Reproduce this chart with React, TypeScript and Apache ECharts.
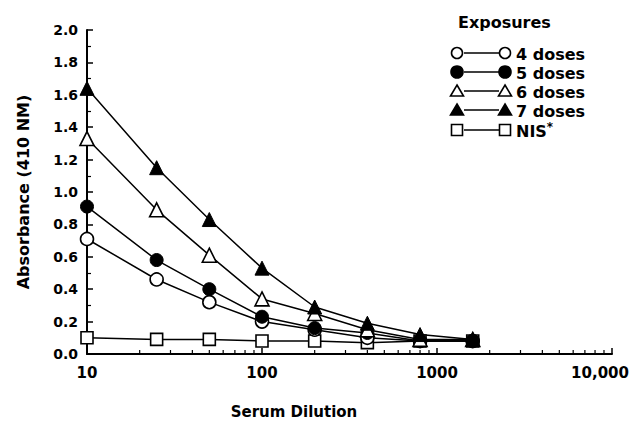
import React, { useEffect, useRef } from "react";
import * as echarts from "echarts";

const dilutions = [10, 25, 50, 100, 200, 400, 800, 1600];
const nis = [0.1, 0.09, 0.09, 0.08, 0.08, 0.07, 0.08, 0.08];
const doses4 = [0.71, 0.46, 0.32, 0.2, 0.15, 0.1, 0.08, 0.08];
const doses5 = [0.91, 0.58, 0.4, 0.23, 0.16, 0.13, 0.08, 0.08];
const doses6 = [1.33, 0.89, 0.61, 0.34, 0.25, 0.15, 0.09, 0.09];
const doses7 = [1.64, 1.15, 0.83, 0.53, 0.29, 0.19, 0.12, 0.09];
const xMinorTicks = [20, 30, 40, 50, 60, 70, 80, 90, 200, 300, 400, 500, 600, 700, 800, 900, 2000, 3000, 4000, 5000, 6000, 7000, 8000, 9000];
const legendLabels = ["4 doses", "5 doses", "6 doses", "7 doses", "NIS"];

const FONT = "DejaVu Sans";

function pair(xs: number[], ys: number[]) {
  return xs.map((x, i) => [x, ys[i]]);
}

export default function App() {
  const ref = useRef<HTMLDivElement>(null);
  useEffect(() => {
    if (!ref.current) return;
    const chart = echarts.init(ref.current, null, { renderer: "svg" });
    const open = { color: "#fff", borderColor: "#000", borderWidth: 1.6 };
    const filled = { color: "#000", borderColor: "#000", borderWidth: 1 };
    const line = { color: "#000", width: 1.5 };
    const mk = (name: string, ys: number[], symbol: string, style: any, size: number) => ({
      name,
      type: "line",
      data: pair(dilutions, ys),
      symbol,
      symbolSize: size,
      showAllSymbol: true,
      lineStyle: line,
      itemStyle: style,
      z: 3,
    });

    // legend graphic
    const rowY = [53, 72, 91, 110, 130];
    const lg: any[] = [];
    const sym = (kind: string, cx: number, cy: number) => {
      const st = (fill: boolean) => ({ fill: fill ? "#000" : "#fff", stroke: "#000", lineWidth: 1.6 });
      if (kind === "oc") return { type: "circle", shape: { cx, cy, r: 5.5 }, style: st(false) };
      if (kind === "fc") return { type: "circle", shape: { cx, cy, r: 6 }, style: st(true) };
      if (kind === "ot" || kind === "ft")
        return {
          type: "polygon",
          shape: { points: [[cx, cy - 6], [cx + 6.5, cy + 5], [cx - 6.5, cy + 5]] },
          style: st(kind === "ft"),
        };
      return { type: "rect", shape: { x: cx - 5.5, y: cy - 5.5, width: 11, height: 11 }, style: st(false) };
    };
    const kinds = ["oc", "fc", "ot", "ft", "sq"];
    kinds.forEach((k, i) => {
      const y = rowY[i];
      lg.push(sym(k, 457, y));
      lg.push({ type: "line", shape: { x1: 464, y1: y, x2: 499, y2: y }, style: { stroke: "#000", lineWidth: 1.5 } });
      lg.push(sym(k, 505, y));
      lg.push({
        type: "text",
        x: 516,
        y: y + 1,
        style: {
          text: i === 4 ? legendLabels[i] + "{sup|*}" : legendLabels[i],
          font: `bold 16px "${FONT}"`,
          fill: "#000",
          verticalAlign: "middle",
          align: "left",
          rich: { sup: { fontSize: 12, fontWeight: "bold", fontFamily: FONT, verticalAlign: "top", padding: [0, 0, 8, 0] } },
        },
      });
    });
    lg.push({
      type: "text",
      x: 458,
      y: 22,
      style: { text: "Exposures", font: `bold 16px "${FONT}"`, fill: "#000", verticalAlign: "middle", align: "left" },
    });
    lg.push({
      type: "text",
      x: 294,
      y: 412,
      style: { text: "Serum Dilution", font: `bold 15px "${FONT}"`, fill: "#000", verticalAlign: "middle", align: "center" },
    });

    chart.setOption({
      animation: false,
      backgroundColor: "#fff",
      grid: { left: 87, right: 22, top: 30, bottom: 70, containLabel: false },
      xAxis: {
        type: "log",
        logBase: 10,
        min: 10,
        max: 10000,
        axisLine: { lineStyle: { color: "#000", width: 2 } },
        axisTick: { inside: true, length: 6, lineStyle: { color: "#000", width: 1.5 } },
        splitLine: { show: false },
        axisLabel: {
          color: "#000",
          fontFamily: FONT,
          fontWeight: "bold",
          fontSize: 15,
          margin: 11,
          formatter: (v: number) => (v >= 10000 ? "{last|10,000}" : String(Math.round(v))),
          rich: { last: { color: "#000", fontFamily: FONT, fontWeight: "bold", fontSize: 15, padding: [0, 24, 0, 0] } },
        },
      },
      yAxis: {
        type: "value",
        min: 0,
        max: 2,
        interval: 0.2,
        name: "Absorbance (410 NM)",
        nameLocation: "middle",
        nameGap: 56,
        nameTextStyle: { color: "#000", fontFamily: FONT, fontWeight: "bold", fontSize: 16 },
        axisLine: { lineStyle: { color: "#000", width: 2 } },
        axisTick: { inside: true, length: 6, lineStyle: { color: "#000", width: 1.5 } },
        minorTick: { show: true, splitNumber: 2, length: 4, lineStyle: { color: "#000", width: 1.2 } },
        splitLine: { show: false },
        axisLabel: {
          color: "#000",
          fontFamily: FONT,
          fontWeight: "bold",
          fontSize: 14,
          margin: 9,
          formatter: (v: number) => v.toFixed(1),
        },
      },
      graphic: lg,
      series: [
        {
          type: "custom",
          silent: true,
          data: xMinorTicks.map((v) => [v, 0]),
          encode: { x: 0, y: 1 },
          renderItem: (params: any, api: any) => {
            const p = api.coord([api.value(0), 0]);
            return {
              type: "line",
              shape: { x1: p[0], y1: p[1], x2: p[0], y2: p[1] - 4 },
              style: { stroke: "#000", lineWidth: 1.2 },
            };
          },
          z: 1,
        },
        mk("NIS", nis, "rect", open, 12),
        mk("4 doses", doses4, "circle", open, 13),
        mk("5 doses", doses5, "circle", filled, 13),
        mk("6 doses", doses6, "triangle", open, 14),
        mk("7 doses", doses7, "triangle", filled, 14),
      ],
    });
    return () => chart.dispose();
  }, []);
  return <div ref={ref} style={{ width: 634, height: 424, position: "absolute", left: 0, top: 0 }} />;
}
